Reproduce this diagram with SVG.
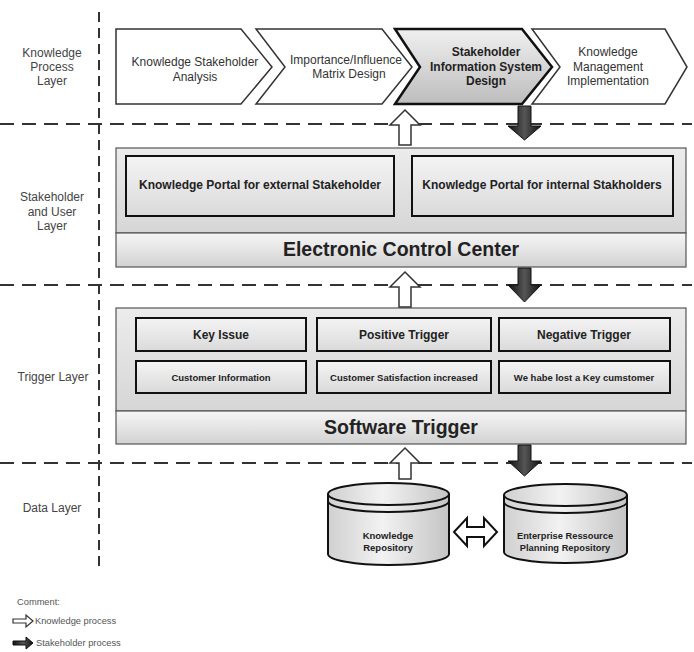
<svg xmlns="http://www.w3.org/2000/svg" width="694" height="652" viewBox="0 0 694 652">
<defs>
<linearGradient id="gBox" x1="0" y1="0" x2="0" y2="1"><stop offset="0" stop-color="#ececec"/><stop offset="1" stop-color="#d6d6d6"/></linearGradient>
<linearGradient id="gBand" x1="0" y1="0" x2="0" y2="1"><stop offset="0" stop-color="#f6f6f6"/><stop offset="1" stop-color="#d2d2d2"/></linearGradient>
<linearGradient id="gInner" x1="0" y1="0" x2="0" y2="1"><stop offset="0" stop-color="#f4f4f4"/><stop offset="1" stop-color="#dadada"/></linearGradient>
<linearGradient id="gChev" x1="0" y1="0" x2="0" y2="1"><stop offset="0" stop-color="#f0f0f0"/><stop offset="1" stop-color="#bdbdbd"/></linearGradient>
<linearGradient id="gCyl" x1="0" y1="0" x2="1" y2="0"><stop offset="0" stop-color="#d0d0d0"/><stop offset="0.45" stop-color="#f2f2f2"/><stop offset="1" stop-color="#c4c4c4"/></linearGradient>
<linearGradient id="gDark" x1="0" y1="0" x2="1" y2="0"><stop offset="0" stop-color="#111"/><stop offset="0.5" stop-color="#555"/><stop offset="1" stop-color="#111"/></linearGradient>
<style>
.lbl{font-family:"Liberation Sans",Arial,sans-serif;fill:#444;font-size:12px;text-anchor:middle}
.t{font-family:"Liberation Sans",Arial,sans-serif;fill:#333;font-size:12px;text-anchor:middle}
.b{font-family:"Liberation Sans",Arial,sans-serif;fill:#222;font-weight:bold;text-anchor:middle}
.dash{stroke:#333;stroke-width:2;fill:none}
.chev{fill:#fff;stroke:#333;stroke-width:1.5}
.outer{stroke:#555;stroke-width:1.2}
.inner{fill:url(#gInner);stroke:#111;stroke-width:2}
.up{fill:#fff;stroke:#333;stroke-width:1.5}
.down{fill:url(#gDark);stroke:#111;stroke-width:1}
.cyl{fill:url(#gCyl);stroke:#111;stroke-width:2}
.leg{font-family:"Liberation Sans",Arial,sans-serif;fill:#555;font-size:9.3px}
</style>
</defs>
<rect width="694" height="652" fill="#fff"/>

<g id="grid">
<line class="dash" x1="99" y1="12" x2="99" y2="572" stroke-dasharray="10,6"/>
<line class="dash" x1="0" y1="124" x2="692" y2="124" stroke-dasharray="14,8"/>
<line class="dash" x1="0" y1="285" x2="692" y2="285" stroke-dasharray="14,8"/>
<line class="dash" x1="0" y1="463" x2="692" y2="463" stroke-dasharray="14,8"/>
</g>

<g id="layer-labels">
<text class="lbl" x="52" y="57">Knowledge</text>
<text class="lbl" x="52" y="71">Process</text>
<text class="lbl" x="52" y="85">Layer</text>
<text class="lbl" x="52" y="201">Stakeholder</text>
<text class="lbl" x="52" y="216">and User</text>
<text class="lbl" x="52" y="230">Layer</text>
<text class="lbl" x="53" y="381">Trigger Layer</text>
<text class="lbl" x="52" y="512">Data Layer</text>
</g>

<g id="chevron1">
<polygon class="chev" points="116,29 241,29 272,67 241,104 116,104"/>
<text class="t" x="195" y="66">Knowledge Stakeholder</text>
<text class="t" x="195" y="81">Analysis</text>
</g>
<g id="chevron2">
<polygon class="chev" points="256,29 382,29 412,67 382,104 256,104 285,67"/>
<text class="t" x="346" y="64" font-size="11.5">Importance/Influence</text>
<text class="t" x="349" y="78" font-size="11.5">Matrix Design</text>
</g>
<g id="chevron3">
<polygon points="395,29 522,29 552,67 522,104 395,104 420,67" fill="url(#gChev)" stroke="#111" stroke-width="2.5"/>
<text class="b" font-size="12" x="486" y="56">Stakeholder</text>
<text class="b" font-size="12" x="486" y="71">Information System</text>
<text class="b" font-size="12" x="486" y="85">Design</text>
</g>
<g id="chevron4">
<polygon class="chev" points="532,29 665,29 687,67 665,104 532,104 560,67"/>
<text class="t" x="608" y="56">Knowledge</text>
<text class="t" x="608" y="71">Management</text>
<text class="t" x="608" y="85">Implementation</text>
</g>

<g id="electronic-control-center">
<rect class="outer" x="116" y="148" width="570" height="85" fill="url(#gBox)"/>
<rect class="outer" x="116" y="233" width="570" height="34" fill="url(#gBand)"/>
<text class="b" font-size="19.5" x="401" y="256">Electronic Control Center</text>
</g>
<g id="portal-external">
<rect class="inner" x="126" y="156" width="268" height="60"/>
<text class="b" font-size="12" x="260" y="189">Knowledge Portal for external Stakeholder</text>
</g>
<g id="portal-internal">
<rect class="inner" x="412" y="156" width="261" height="60"/>
<text class="b" font-size="12" x="542" y="189">Knowledge Portal for internal Stakholders</text>
</g>

<g id="software-trigger">
<rect class="outer" x="116" y="308" width="570" height="103" fill="url(#gBox)"/>
<rect class="outer" x="116" y="411" width="570" height="33" fill="url(#gBand)"/>
<text class="b" font-size="19.5" x="401" y="434">Software Trigger</text>
</g>
<g id="key-issue">
<rect class="inner" x="136" y="318" width="170" height="33"/>
<text class="b" font-size="12" x="221" y="339">Key Issue</text>
</g>
<g id="positive-trigger">
<rect class="inner" x="317" y="318" width="174" height="33"/>
<text class="b" font-size="12" x="404" y="339">Positive Trigger</text>
</g>
<g id="negative-trigger">
<rect class="inner" x="499" y="318" width="171" height="33"/>
<text class="b" font-size="12" x="584" y="339">Negative Trigger</text>
</g>
<g id="customer-information">
<rect class="inner" x="136" y="361" width="170" height="32"/>
<text class="b" font-size="9.5" x="221" y="381">Customer Information</text>
</g>
<g id="customer-satisfaction">
<rect class="inner" x="317" y="361" width="174" height="32"/>
<text class="b" font-size="9.5" x="404" y="381">Customer Satisfaction increased</text>
</g>
<g id="lost-customer">
<rect class="inner" x="499" y="361" width="171" height="32"/>
<text class="b" font-size="9.5" x="584" y="381">We habe lost a Key cumstomer</text>
</g>

<g id="knowledge-repository">
<path class="cyl" d="M328,494 L328,554 A60.5,11 0 0 0 449,554 L449,494 A60.5,11 0 0 0 328,494 Z"/>
<path d="M328,494 A60.5,11 0 0 0 449,494" fill="none" stroke="#111" stroke-width="2"/>
<path d="M328,501 A60.5,11 0 0 0 449,501" fill="none" stroke="#111" stroke-width="2"/>
<text class="b" font-size="9.5" x="388" y="539">Knowledge</text>
<text class="b" font-size="9.5" x="388" y="551">Repository</text>
</g>
<g id="erp-repository">
<path class="cyl" d="M504,495 L504,552 A61.5,11 0 0 0 627,552 L627,495 A61.5,11 0 0 0 504,495 Z"/>
<path d="M504,495 A61.5,11 0 0 0 627,495" fill="none" stroke="#111" stroke-width="2"/>
<path d="M504,502 A61.5,11 0 0 0 627,502" fill="none" stroke="#111" stroke-width="2"/>
<text class="b" font-size="9.3" x="565" y="539">Enterprise Ressource</text>
<text class="b" font-size="9.3" x="565" y="551">Planning Repository</text>
</g>

<g id="connectors">
<polygon class="up" points="405,110 420,125 411,125 411,145 399,145 399,125 390,125"/>
<polygon class="down" points="518,106 531,106 531,126 541,126 524.5,140 508,126 518,126"/>
<polygon class="up" points="405,272 420,287 411,287 411,307 399,307 399,287 390,287"/>
<polygon class="down" points="518,268 531,268 531,285 541,285 524.5,302 508,285 518,285"/>
<polygon class="up" points="405,448 420,463 411,463 411,479 399,479 399,463 390,463"/>
<polygon class="down" points="518,445 531,445 531,461 541,461 524.5,476 508,461 518,461"/>
<polygon points="454,532 467,518 467,527 484,527 484,518 497,532 484,546 484,537 467,537 467,546" fill="#fff" stroke="#111" stroke-width="2"/>
</g>

<g id="legend">
<text class="leg" x="17" y="605" font-size="8.5">Comment:</text>
<polygon points="13,619 26,619 26,615 33,621 26,627 26,623 13,623" fill="#fff" stroke="#333" stroke-width="1.2"/>
<text class="leg" x="35" y="624">Knowledge process</text>
<polygon points="13,641 26,641 26,637 33,643 26,649 26,645 13,645" fill="url(#gDark)" stroke="#111" stroke-width="1"/>
<text class="leg" x="36" y="646">Stakeholder process</text>
</g>
</svg>
